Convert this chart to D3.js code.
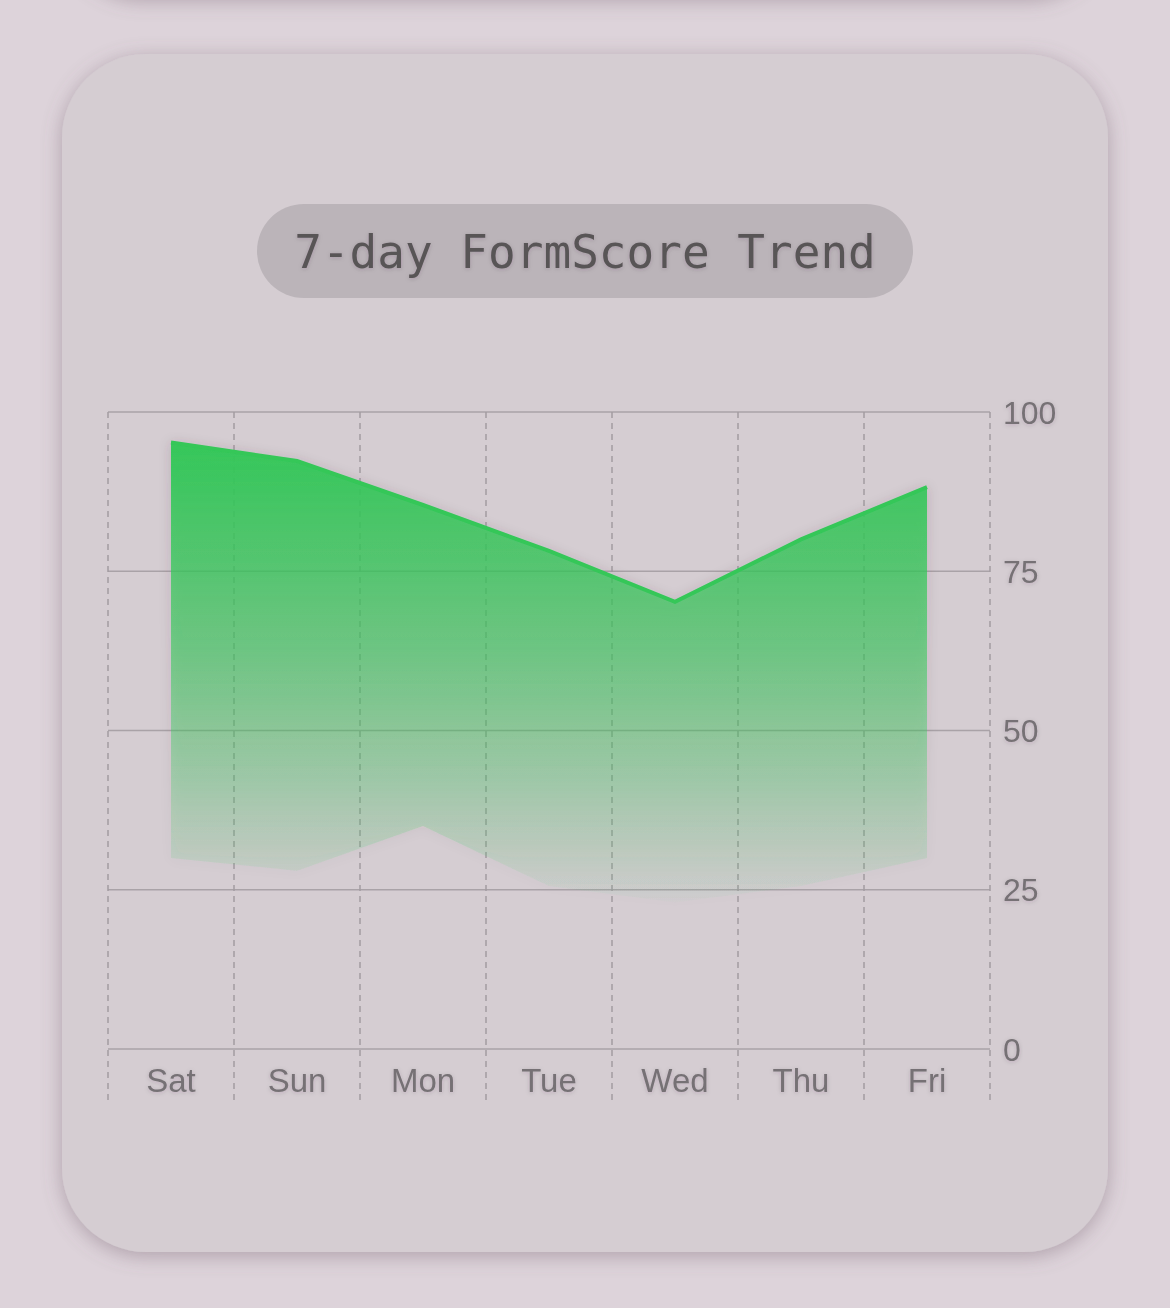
<!DOCTYPE html>
<meta charset="utf-8">
<script src="https://d3js.org/d3.v7.min.js"></script>
<style>
  html, body { margin: 0; padding: 0; background: #ddd3da; }
</style>
<svg id="chart" width="1170" height="1308"></svg>

<script>

  // data
  var days = ["Sat", "Sun", "Mon", "Tue", "Wed", "Thu", "Fri"];
  var highScores = [95.2, 92.3, 85.4, 78.2, 70.2, 80.0, 88.2];
  var lowScores = [30.0, 28.0, 35.0, 25.6, 23.0, 25.6, 30.0];
  var yTicks = [0, 25, 50, 75, 100];
  var title = "7-day FormScore Trend";

  var svg = d3.select("#chart"),
      width = +svg.attr("width"),
      height = +svg.attr("height");

  var defs = svg.append("defs");

  var cardShadow = defs.append("filter").attr("id", "cardShadow")
      .attr("x", "-10%").attr("y", "-10%").attr("width", "120%").attr("height", "120%");
  cardShadow.append("feDropShadow")
      .attr("dx", 0).attr("dy", 4).attr("stdDeviation", 10)
      .attr("flood-color", "#6e5a68").attr("flood-opacity", 0.42);

  var areaShadow = defs.append("filter").attr("id", "areaShadow")
      .attr("x", "-10%").attr("y", "-10%").attr("width", "120%").attr("height", "120%");
  areaShadow.append("feDropShadow")
      .attr("dx", 0).attr("dy", 2).attr("stdDeviation", 6)
      .attr("flood-color", "#4a3a44").attr("flood-opacity", 0.22);

  var textShadow = defs.append("filter").attr("id", "textShadow");
  textShadow.append("feDropShadow")
      .attr("dx", 0).attr("dy", 1).attr("stdDeviation", 2)
      .attr("flood-color", "#3a2e36").attr("flood-opacity", 0.18);

  // background cards
  svg.append("rect")
      .attr("x", 62).attr("y", -1200)
      .attr("width", 1046).attr("height", 1196)
      .attr("rx", 80)
      .attr("fill", "#d6ced3")
      .attr("filter", "url(#cardShadow)");

  svg.append("rect")
      .attr("x", 62).attr("y", 54)
      .attr("width", 1046).attr("height", 1198)
      .attr("rx", 84)
      .attr("fill", "#d5cdd2")
      .attr("filter", "url(#cardShadow)");

  // title pill
  svg.append("rect")
      .attr("x", 257).attr("y", 204)
      .attr("width", 656).attr("height", 94)
      .attr("rx", 47)
      .attr("fill", "#bbb4b9");

  svg.append("text")
      .attr("x", 585).attr("y", 268)
      .attr("text-anchor", "middle")
      .style("font-family", "'DejaVu Sans Mono', monospace")
      .style("font-size", "46px")
      .style("fill", "#595457")
      .attr("filter", "url(#textShadow)")
      .text(title);

  // scales
  var x = d3.scaleBand()
      .domain(days)
      .range([108, 990])
      .padding(0);

  var y = d3.scaleLinear()
      .domain([0, 100])
      .range([1049, 412]);

  var cx = function(d) { return x(d) + x.bandwidth() / 2; };

  // horizontal grid
  svg.append("g")
    .selectAll("line")
    .data(yTicks)
    .enter()
    .append("line")
      .attr("x1", x.range()[0])
      .attr("x2", x.range()[1])
      .attr("y1", function(d) { return y(d); })
      .attr("y2", function(d) { return y(d); })
      .attr("stroke", "#a9a2a7")
      .attr("stroke-width", 1.6);

  // vertical dashed grid at band edges
  var edges = days.map(function(d) { return x(d); }).concat([x.range()[1]]);
  svg.append("g")
    .selectAll("line")
    .data(edges)
    .enter()
    .append("line")
      .attr("x1", function(d) { return d; })
      .attr("x2", function(d) { return d; })
      .attr("y1", y(100))
      .attr("y2", 1101)
      .attr("stroke", "#a39ca1")
      .attr("stroke-width", 1.5)
      .attr("stroke-dasharray", "6,5");

  // area gradient
  var grad = defs.append("linearGradient")
      .attr("id", "areaGrad")
      .attr("gradientUnits", "userSpaceOnUse")
      .attr("x1", 0).attr("x2", 0)
      .attr("y1", y(96)).attr("y2", y(22));
  grad.append("stop").attr("offset", "0%").attr("stop-color", "#34c759").attr("stop-opacity", 1);
  grad.append("stop").attr("offset", "45%").attr("stop-color", "#34c759").attr("stop-opacity", 0.6);
  grad.append("stop").attr("offset", "100%").attr("stop-color", "#34c759").attr("stop-opacity", 0.0);

  var rows = days.map(function(d, i) { return { day: d, hi: highScores[i], lo: lowScores[i] }; });

  var area = d3.area()
      .x(function(d) { return cx(d.day); })
      .y0(function(d) { return y(d.lo); })
      .y1(function(d) { return y(d.hi); });

  var line = d3.line()
      .x(function(d) { return cx(d.day); })
      .y(function(d) { return y(d.hi); });

  var marks = svg.append("g").attr("filter", "url(#areaShadow)");

  marks.append("path")
      .datum(rows)
      .attr("d", area)
      .attr("fill", "url(#areaGrad)");

  marks.append("path")
      .datum(rows)
      .attr("d", line)
      .attr("fill", "none")
      .attr("stroke", "#34c759")
      .attr("stroke-width", 4)
      .attr("stroke-linejoin", "miter");

  // y axis labels on the right
  svg.append("g")
    .selectAll("text")
    .data(yTicks)
    .enter()
    .append("text")
      .attr("x", 1003)
      .attr("y", function(d) { return y(d); })
      .attr("dy", "0.36em")
      .style("font-family", "'Liberation Sans', Arial, sans-serif")
      .style("font-size", "32px")
      .style("fill", "#767175")
      .attr("filter", "url(#textShadow)")
      .text(function(d) { return d; });

  // x axis labels
  svg.append("g")
    .selectAll("text")
    .data(days)
    .enter()
    .append("text")
      .attr("x", function(d) { return cx(d); })
      .attr("y", 1092)
      .attr("text-anchor", "middle")
      .style("font-family", "'Liberation Sans', Arial, sans-serif")
      .style("font-size", "33px")
      .style("fill", "#767175")
      .attr("filter", "url(#textShadow)")
      .text(function(d) { return d; });

</script>
